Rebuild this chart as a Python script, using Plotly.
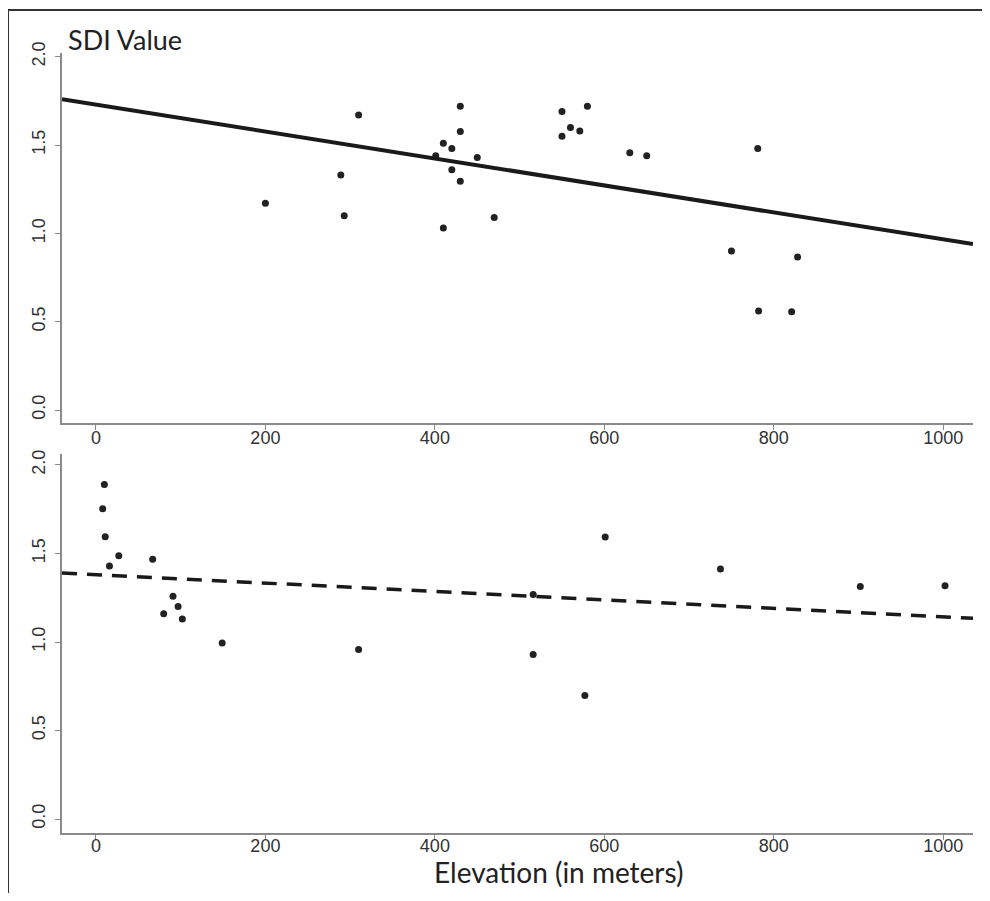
import plotly.graph_objects as go

# ---- data ----
top_elev = [200, 310, 289, 293, 430, 430, 410, 420, 401, 450, 420, 430, 470, 410,
            550, 580, 560, 571, 550, 630, 650, 781, 750, 828, 782, 821]
top_sdi = [1.17, 1.67, 1.33, 1.10, 1.72, 1.576, 1.51, 1.48, 1.44, 1.43, 1.36, 1.295, 1.09, 1.03,
           1.69, 1.72, 1.60, 1.58, 1.55, 1.457, 1.44, 1.48, 0.90, 0.866, 0.56, 0.557]

bot_elev = [10, 8, 11, 16, 27, 67, 91, 97, 80, 102, 149, 310, 516, 516, 577, 601, 737, 902, 1002]
bot_sdi = [1.889, 1.753, 1.595, 1.43, 1.487, 1.467, 1.258, 1.20, 1.16, 1.13, 0.995, 0.958,
           0.93, 1.269, 0.698, 1.593, 1.412, 1.314, 1.318]

top_fit = (1.729, -0.000763)   # intercept, slope
bot_fit = (1.3805, -0.000238)

x_range = [-40, 1035]
x_ticks = [0, 200, 400, 600, 800, 1000]
y_ticks = [0.0, 0.5, 1.0, 1.5, 2.0]
y_tick_labels = ["0.0", "0.5", "1.0", "1.5", "2.0"]

title_text = "SDI Value"
xlabel_text = "Elevation (in meters)"

# ---- figure (page body adds an 8px offset) ----
OFF = 8
W, H = 974, 885
ML = 62 - OFF
MT = 53 - OFF
MR = W - (973 - OFF)
MB = H - (833 - OFF)
PW, PH = W - ML - MR, H - MT - MB

def px_x(p):
    return (p - OFF - ML) / PW

def px_y(p):
    return (H - MB - (p - OFF)) / PH

fig = go.Figure()

mk = dict(size=7, color="#222222")
fig.add_trace(go.Scatter(x=top_elev, y=top_sdi, mode="markers", marker=mk,
                         xaxis="x", yaxis="y", showlegend=False))
fx = list(x_range)
fig.add_trace(go.Scatter(x=fx, y=[top_fit[0] + top_fit[1] * v for v in fx], mode="lines",
                         line=dict(color="#1a1a1a", width=4), xaxis="x", yaxis="y",
                         showlegend=False))
fig.add_trace(go.Scatter(x=bot_elev, y=bot_sdi, mode="markers", marker=mk,
                         xaxis="x2", yaxis="y2", showlegend=False))
fig.add_trace(go.Scatter(x=fx, y=[bot_fit[0] + bot_fit[1] * v for v in fx], mode="lines",
                         line=dict(color="#1a1a1a", width=3.5, dash="15px,10px"),
                         xaxis="x2", yaxis="y2", showlegend=False))

tickfont = dict(family="Liberation Sans", size=18, color="#333333")
axis_common = dict(showline=True, linecolor="#8a8a8a", linewidth=1.5, ticks="outside",
                   ticklen=5, tickcolor="#8a8a8a", tickwidth=1.2, showgrid=False,
                   zeroline=False, tickfont=tickfont, mirror=False)

top_dom = [px_y(423.3), 1.0]
bot_dom = [0.0, px_y(454)]

fig.update_layout(
    width=W, height=H,
    margin=dict(l=ML, r=MR, t=MT, b=MB),
    paper_bgcolor="white", plot_bgcolor="white",
    xaxis=dict(domain=[0, 1], range=x_range, tickvals=x_ticks, anchor="y",
               ticklabelstandoff=-8, **axis_common),
    yaxis=dict(domain=top_dom, range=[-0.075, 2.021], tickvals=y_ticks, ticktext=y_tick_labels,
               tickangle=-90, anchor="x", ticklabelstandoff=3, **axis_common),
    xaxis2=dict(domain=[0, 1], range=x_range, tickvals=x_ticks, anchor="y2",
                ticklabelstandoff=-9, **axis_common),
    yaxis2=dict(domain=bot_dom, range=[-0.079, 2.062], tickvals=y_ticks, ticktext=y_tick_labels,
                tickangle=-90, anchor="x2", ticklabelstandoff=3, **axis_common),
    annotations=[
        dict(text=title_text, xref="paper", yref="paper", x=px_x(66), y=px_y(39),
             xanchor="left", yanchor="middle", showarrow=False,
             font=dict(family="Lato", size=27, color="#222222")),
        dict(text=xlabel_text, xref="paper", yref="paper", x=px_x(558), y=px_y(872),
             xanchor="center", yanchor="middle", showarrow=False,
             font=dict(family="Lato", size=28, color="#222222")),
    ],
    shapes=[
        dict(type="line", xref="paper", yref="paper", x0=px_x(8), x1=px_x(995),
             y0=px_y(10), y1=px_y(10), line=dict(color="#333333", width=2)),
        dict(type="line", xref="paper", yref="paper", x0=px_x(8), x1=px_x(8),
             y0=px_y(10), y1=px_y(903), line=dict(color="#333333", width=2)),
    ],
)

fig.write_html("out.html")
